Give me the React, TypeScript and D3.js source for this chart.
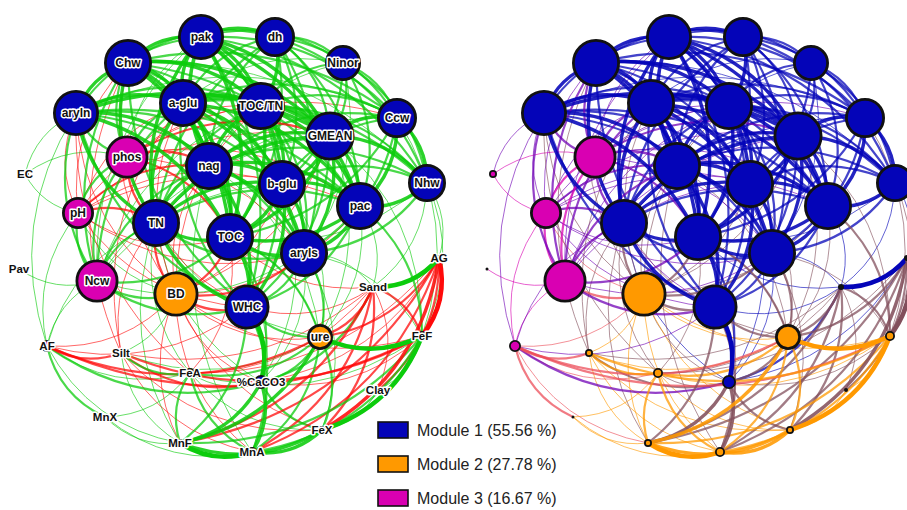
import React, { useEffect, useRef } from "react";
import * as d3 from "d3";

// Soil-property network: nodes, their module membership and hub score
const NODE_IDS = [
  "pak", "dh", "Chw", "Ninor", "aryln", "a-glu", "TOC/TN", "Ccw", "GMEAN", "phos",
  "nag", "b-glu", "Nhw", "pac", "pH", "TN", "TOC", "aryls", "EC", "Pav",
  "Ncw", "BD", "WHC", "AG", "Sand", "ure", "FeF", "AF", "Silt", "FeA",
  "%CaCO3", "Clay", "MnX", "FeX", "MnF", "MnA",
];
const NODE_MODULE = [
  1, 1, 1, 1, 1, 1, 1, 1, 1, 3,
  1, 1, 1, 1, 3, 1, 1, 1, 3, 3,
  3, 2, 1, 1, 1, 2, 2, 3, 2, 2,
  1, 2, 2, 2, 2, 2,
];
const NODE_SCORE = [
  0.92, 0.8, 0.96, 0.72, 0.92, 0.96, 0.96, 0.8, 0.98, 0.86,
  0.96, 0.96, 0.76, 0.96, 0.64, 0.96, 0.96, 0.96, 0.16, 0.06,
  0.86, 0.9, 0.9, 0.12, 0.12, 0.52, 0.2, 0.24, 0.16, 0.2,
  0.28, 0.08, 0.06, 0.16, 0.16, 0.2,
];
// Force-directed layout result (layout units)
const LAYOUT_X = [
  201, 275, 128, 343, 76, 183, 261, 397, 330, 127,
  209, 282, 427, 360, 78, 156, 230, 304, 25, 19,
  97, 176, 247, 439, 373, 320, 422, 47, 121, 190,
  261, 378, 105, 322, 180, 252,
];
const LAYOUT_Y = [
  37, 37, 63, 63, 113, 103, 106, 118, 136, 157,
  166, 184, 183, 206, 213, 223, 237, 253, 174, 269,
  281, 294, 307, 258, 287, 337, 336, 346, 353, 373,
  382, 390, 417, 430, 443, 452,
];

// Significant correlations: [a, b, strength]; negative strength = negative correlation
const EDGES: [string, string, number][] = [
  ["pak", "dh", 3], ["pak", "Chw", 3], ["pak", "Ninor", 2], ["pak", "aryln", 2], ["pak", "a-glu", 3], ["pak", "TOC/TN", 3], ["pak", "Ccw", 2], ["pak", "GMEAN", 3], ["pak", "nag", 3], ["pak", "b-glu", 3], ["pak", "Nhw", 2], ["pak", "pac", 3], ["pak", "TN", 3], ["pak", "TOC", 3], ["pak", "aryls", 2], ["pak", "WHC", 2],
  ["dh", "Chw", 2], ["dh", "Ninor", 2], ["dh", "a-glu", 2], ["dh", "TOC/TN", 3], ["dh", "Ccw", 2], ["dh", "GMEAN", 2], ["dh", "nag", 2], ["dh", "b-glu", 2], ["dh", "Nhw", 2], ["dh", "pac", 2], ["dh", "TN", 2], ["dh", "TOC", 2], ["dh", "aryls", 2],
  ["Chw", "aryln", 3], ["Chw", "a-glu", 3], ["Chw", "TOC/TN", 3], ["Chw", "GMEAN", 3], ["Chw", "nag", 3], ["Chw", "b-glu", 2], ["Chw", "Ccw", 2], ["Chw", "pac", 2], ["Chw", "TN", 3], ["Chw", "TOC", 3], ["Chw", "aryls", 2], ["Chw", "WHC", 2], ["Chw", "Nhw", 1],
  ["Ninor", "TOC/TN", 2], ["Ninor", "GMEAN", 2], ["Ninor", "Ccw", 2], ["Ninor", "Nhw", 2], ["Ninor", "b-glu", 2], ["Ninor", "pac", 2], ["Ninor", "nag", 1], ["Ninor", "aryls", 1], ["Ninor", "a-glu", 1],
  ["aryln", "a-glu", 3], ["aryln", "TOC/TN", 2], ["aryln", "GMEAN", 3], ["aryln", "nag", 3], ["aryln", "b-glu", 2], ["aryln", "TN", 3], ["aryln", "TOC", 3], ["aryln", "pac", 2], ["aryln", "aryls", 2], ["aryln", "WHC", 2], ["aryln", "Ccw", 1],
  ["a-glu", "TOC/TN", 3], ["a-glu", "GMEAN", 3], ["a-glu", "nag", 3], ["a-glu", "b-glu", 3], ["a-glu", "Ccw", 2], ["a-glu", "Nhw", 2], ["a-glu", "pac", 3], ["a-glu", "TN", 3], ["a-glu", "TOC", 3], ["a-glu", "aryls", 3], ["a-glu", "WHC", 2],
  ["TOC/TN", "GMEAN", 3], ["TOC/TN", "nag", 3], ["TOC/TN", "b-glu", 3], ["TOC/TN", "Ccw", 2], ["TOC/TN", "Nhw", 2], ["TOC/TN", "pac", 3], ["TOC/TN", "TN", 2], ["TOC/TN", "TOC", 3], ["TOC/TN", "aryls", 2], ["TOC/TN", "WHC", 2],
  ["Ccw", "GMEAN", 3], ["Ccw", "Nhw", 3], ["Ccw", "b-glu", 2], ["Ccw", "pac", 3], ["Ccw", "nag", 2], ["Ccw", "TOC", 2], ["Ccw", "aryls", 2], ["Ccw", "TN", 1],
  ["GMEAN", "nag", 3], ["GMEAN", "b-glu", 3], ["GMEAN", "Nhw", 3], ["GMEAN", "pac", 3], ["GMEAN", "TN", 3], ["GMEAN", "TOC", 3], ["GMEAN", "aryls", 3], ["GMEAN", "WHC", 2],
  ["nag", "b-glu", 3], ["nag", "Nhw", 2], ["nag", "pac", 3], ["nag", "TN", 3], ["nag", "TOC", 3], ["nag", "aryls", 3], ["nag", "WHC", 3],
  ["b-glu", "Nhw", 2], ["b-glu", "pac", 3], ["b-glu", "TN", 3], ["b-glu", "TOC", 3], ["b-glu", "aryls", 3], ["b-glu", "WHC", 3],
  ["Nhw", "pac", 3], ["Nhw", "aryls", 2], ["Nhw", "TOC", 1],
  ["pac", "TN", 2], ["pac", "TOC", 3], ["pac", "aryls", 3], ["pac", "WHC", 2],
  ["TN", "TOC", 3], ["TN", "aryls", 2], ["TN", "WHC", 3],
  ["TOC", "aryls", 3], ["TOC", "WHC", 3], ["aryls", "WHC", 2],
  ["%CaCO3", "WHC", 4], ["%CaCO3", "TOC", 2], ["%CaCO3", "aryls", 1], ["%CaCO3", "TN", 1], ["%CaCO3", "b-glu", 1], ["%CaCO3", "Sand", 2], ["%CaCO3", "ure", 2], ["%CaCO3", "MnF", 3], ["%CaCO3", "MnA", 3], ["%CaCO3", "FeX", 2], ["%CaCO3", "FeA", 1], ["%CaCO3", "Silt", -2], ["%CaCO3", "AF", 2], ["%CaCO3", "BD", -1], ["%CaCO3", "FeF", -1], ["%CaCO3", "AG", -1],
  ["Sand", "AG", 4], ["Sand", "pac", 1], ["Sand", "aryls", 1], ["Sand", "Nhw", 1], ["Sand", "ure", -2], ["Sand", "FeF", -2], ["Sand", "FeX", -2], ["Sand", "MnF", -2], ["Sand", "MnA", -2], ["Sand", "Clay", -1], ["Sand", "FeA", -1], ["Sand", "WHC", -1], ["Sand", "TOC", -1], ["Sand", "Silt", -1],
  ["AG", "FeF", -4], ["AG", "FeX", -3], ["AG", "MnF", -2], ["AG", "MnA", -2], ["AG", "Clay", -2], ["AG", "ure", -2], ["AG", "Nhw", 1], ["AG", "FeA", -1],
  ["ure", "FeF", 4], ["ure", "MnF", 3], ["ure", "MnA", 2], ["ure", "FeX", 2], ["ure", "FeA", 2], ["ure", "Silt", 1], ["ure", "aryls", 2], ["ure", "WHC", 2], ["ure", "TOC", 2], ["ure", "b-glu", 1], ["ure", "pac", 1], ["ure", "GMEAN", 1], ["ure", "BD", -1], ["ure", "AF", -2], ["ure", "TN", 1], ["ure", "nag", 1],
  ["FeF", "FeX", 4], ["FeF", "MnF", 2], ["FeF", "MnA", 2], ["FeF", "Clay", 1], ["FeF", "FeA", 1], ["FeF", "Nhw", 1], ["FeF", "pac", 2], ["FeF", "BD", -1], ["FeF", "AF", -2], ["FeF", "Silt", -2], ["FeF", "Ccw", 1], ["FeF", "aryls", 1], ["FeF", "GMEAN", 1],
  ["FeX", "MnF", 3], ["FeX", "MnA", 3], ["FeX", "FeA", 1], ["FeX", "Clay", 1], ["FeX", "BD", -1], ["FeX", "Silt", -1], ["FeX", "aryls", 1],
  ["MnF", "MnA", 4], ["MnF", "FeA", 2], ["MnF", "MnX", 1], ["MnF", "Silt", 1], ["MnF", "AF", 1], ["MnF", "WHC", 2], ["MnF", "TN", 1],
  ["MnA", "FeA", 2], ["MnA", "MnX", 1], ["MnA", "Silt", -1], ["MnA", "WHC", 2], ["MnA", "TOC", 1],
  ["Silt", "FeA", 2], ["Silt", "AF", -2], ["MnX", "AF", 2], ["MnX", "FeA", 1], ["FeA", "AF", 1], ["FeA", "TN", 1], ["FeA", "TOC", -1],
  ["BD", "TN", -2], ["BD", "TOC", -2], ["BD", "WHC", -2], ["BD", "aryls", -2], ["BD", "nag", -1], ["BD", "a-glu", -1], ["BD", "b-glu", -1], ["BD", "GMEAN", -1], ["BD", "Ncw", 2], ["BD", "pH", 1], ["BD", "Chw", -1], ["BD", "aryln", -1], ["BD", "Silt", 1], ["BD", "MnF", -1], ["BD", "MnA", -1], ["BD", "AF", -1], ["BD", "TOC/TN", -1], ["BD", "pac", -1],
  ["pH", "EC", 1], ["pH", "Ncw", 2], ["pH", "phos", 2], ["pH", "AF", 1], ["pH", "aryln", -1], ["pH", "Chw", -1], ["pH", "a-glu", -1], ["pH", "nag", -2], ["pH", "TN", -2], ["pH", "TOC", -1], ["pH", "b-glu", -1], ["pH", "GMEAN", -1], ["pH", "TOC/TN", -1], ["pH", "WHC", -1], ["pH", "pac", -1], ["pH", "aryls", -1],
  ["phos", "EC", 1], ["phos", "Ncw", 2], ["phos", "Chw", 2], ["phos", "pak", 1], ["phos", "aryln", 2], ["phos", "a-glu", 2], ["phos", "nag", -2], ["phos", "TN", -2], ["phos", "TOC", -2], ["phos", "b-glu", -1], ["phos", "GMEAN", -2], ["phos", "TOC/TN", -1], ["phos", "pac", -1], ["phos", "aryls", -1], ["phos", "WHC", -1], ["phos", "Ccw", -1],
  ["Ncw", "Pav", 1], ["Ncw", "AF", 1], ["Ncw", "aryln", 2], ["Ncw", "Chw", 2], ["Ncw", "a-glu", 2], ["Ncw", "TN", 2], ["Ncw", "nag", 2], ["Ncw", "TOC", 2], ["Ncw", "GMEAN", 1], ["Ncw", "b-glu", 1], ["Ncw", "WHC", 2], ["Ncw", "aryls", 1], ["Ncw", "pak", 1], ["Ncw", "TOC/TN", 1],
  ["EC", "aryln", 1], ["AF", "aryln", 1], ["AF", "TN", 1], ["AF", "WHC", -1],
  ["Chw", "Silt", -1], ["TN", "Silt", -1], ["a-glu", "Silt", -1], ["aryln", "FeA", -1], ["nag", "MnA", 1], ["TOC", "ure", 1],
];

const MODULE_COLOR: Record<number, string> = { 1: "#0404b8", 2: "#ff9900", 3: "#d900b2" };
const SIGN_COLOR = { pos: "#0ccc0c", neg: "#ff0a0a" };
const PANEL_OFFSETS = [0, 468];

export default function App() {
  const ref = useRef<SVGSVGElement>(null);

  useEffect(() => {
    const svg = d3.select(ref.current);
    svg.selectAll("*").remove();

    const nodes = NODE_IDS.map((id, i) => ({
      id,
      module: NODE_MODULE[i],
      score: NODE_SCORE[i],
      lx: LAYOUT_X[i],
      ly: LAYOUT_Y[i],
    }));
    const byId = new Map(nodes.map((n) => [n.id, n]));

    const rScale = d3.scaleLinear().domain([0, 1]).range([0, 25]);
    const wScale = d3.scaleLinear().domain([1, 4]).range([1.0, 4.6]);
    const oScale = d3.scaleLinear().domain([1, 4]).range([0.62, 1]);
    const yScale = d3.scaleLinear().domain([0, 510]).range([0, 510]);
    const center = { x: 225, y: 235 };

    const sortedEdges = [...EDGES].sort((a, b) => Math.abs(a[2]) - Math.abs(b[2]));

    PANEL_OFFSETS.forEach((offset, panel) => {
      const xScale = d3.scaleLinear().domain([0, 460]).range([offset, offset + 460]);
      const g = svg.append("g");

      const edgeG = g.append("g").attr("fill", "none");
      sortedEdges.forEach(([a, b, w]) => {
        const s = byId.get(a)!;
        const t = byId.get(b)!;
        const sx = xScale(s.lx), sy = yScale(s.ly);
        const tx = xScale(t.lx), ty = yScale(t.ly);
        const dx = tx - sx, dy = ty - sy;
        const L = Math.hypot(dx, dy) || 1;
        let nx = -dy / L, ny = dx / L;
        const mx = (sx + tx) / 2, my = (sy + ty) / 2;
        const cxC = xScale(center.x), cyC = yScale(center.y);
        if ((mx - cxC) * nx + (my - cyC) * ny < 0) {
          nx = -nx;
          ny = -ny;
        }
        const k = 0.24;
        const p = d3.path();
        p.moveTo(sx, sy);
        p.quadraticCurveTo(mx + nx * L * k, my + ny * L * k, tx, ty);

        let color: string;
        if (panel === 0) {
          color = w > 0 ? SIGN_COLOR.pos : SIGN_COLOR.neg;
        } else {
          color =
            s.module === t.module
              ? MODULE_COLOR[s.module]
              : d3.interpolateRgb(MODULE_COLOR[s.module], MODULE_COLOR[t.module])(0.5);
        }
        const aw = Math.abs(w);
        edgeG
          .append("path")
          .attr("d", p.toString())
          .attr("stroke", color)
          .attr("stroke-width", wScale(aw))
          .attr("stroke-opacity", oScale(aw));
      });

      const nodeG = g.append("g");
      nodes.forEach((n) => {
        const r = rScale(n.score);
        const cx = xScale(n.lx), cy = yScale(n.ly);
        if (r <= 3.2) {
          nodeG.append("circle").attr("cx", cx).attr("cy", cy).attr("r", r).attr("fill", "#111");
        } else {
          const sw = r > 10 ? 2.8 : 1.8;
          nodeG
            .append("circle")
            .attr("cx", cx)
            .attr("cy", cy)
            .attr("r", r - sw / 2)
            .attr("fill", MODULE_COLOR[n.module])
            .attr("stroke", "#111")
            .attr("stroke-width", sw);
        }
      });

      if (panel === 0) {
        const labelG = g
          .append("g")
          .attr("font-family", "'Liberation Sans', Arial, sans-serif")
          .attr("font-weight", "bold")
          .attr("text-anchor", "middle");
        nodes.forEach((n) => {
          const big = rScale(n.score) > 10;
          labelG
            .append("text")
            .attr("x", xScale(n.lx))
            .attr("y", yScale(n.ly))
            .attr("dy", "0.36em")
            .attr("font-size", big ? 12 : 11.5)
            .attr("fill", "#111")
            .attr("stroke", "#fff")
            .attr("stroke-width", 3)
            .attr("stroke-linejoin", "round")
            .attr("paint-order", "stroke")
            .text(n.id);
        });
      }
    });

    // Legend
    const total = nodes.length;
    const modules = [1, 2, 3];
    const legend = svg.append("g").attr("font-family", "'Liberation Sans', Arial, sans-serif");
    const rowY = d3.scaleLinear().domain([0, 2]).range([422, 490]);
    modules.forEach((m, i) => {
      const count = nodes.filter((n) => n.module === m).length;
      const pct = ((count / total) * 100).toFixed(2);
      legend
        .append("rect")
        .attr("x", 378)
        .attr("y", rowY(i))
        .attr("width", 30)
        .attr("height", 16)
        .attr("fill", MODULE_COLOR[m])
        .attr("stroke", "#111")
        .attr("stroke-width", 1.6);
      legend
        .append("text")
        .attr("x", 417)
        .attr("y", rowY(i) + 14)
        .attr("font-size", 16)
        .attr("fill", "#222")
        .text(`Module ${m} (${pct} %)`);
    });
  }, []);

  return (
    <svg
      ref={ref}
      width={907}
      height={510}
      style={{ position: "absolute", left: 0, top: 0, background: "#fff" }}
    />
  );
}
